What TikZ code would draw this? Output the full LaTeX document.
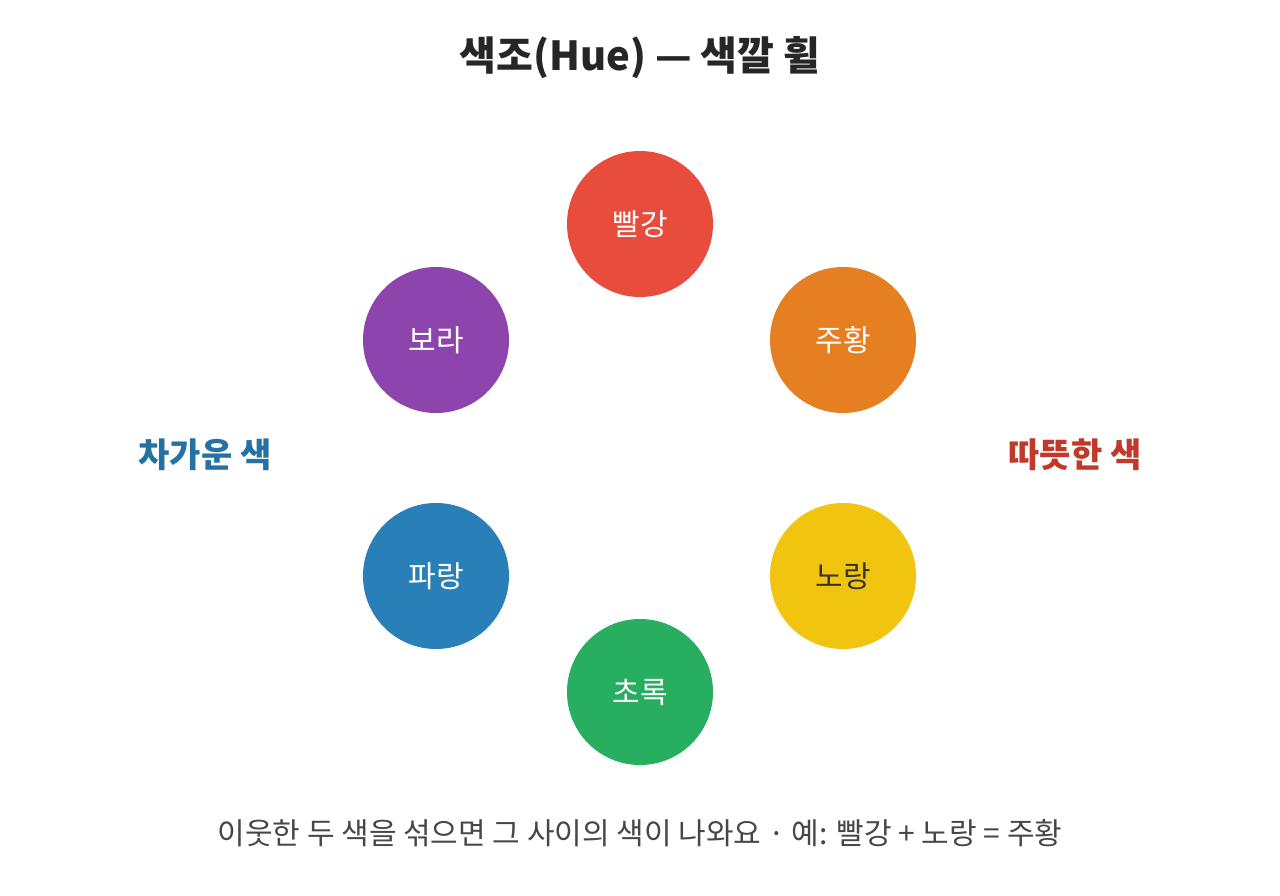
\documentclass[tikz,border=0pt]{standalone}
\usepackage{fontspec}
\setmainfont{Noto Sans CJK KR}
\begin{document}
\begin{tikzpicture}[x=1pt,y=-1pt,
  hue/.style={circle,minimum size=146pt,inner sep=0pt,text=white,font=\fontsize{30}{36}\selectfont},
  side/.style={font=\fontsize{34}{40}\selectfont\bfseries}]
\useasboundingbox (0,0) rectangle (1280,896);
\fill[white] (0,0) rectangle (1280,896);
\node[font=\fontsize{40}{48}\selectfont\bfseries,text=black!85] (title) at (640,58) {색조(Hue) — 색깔 휠};
\node[hue,fill={rgb,255:red,231;green,76;blue,60}] (r) at (640,224) {빨강};
\node[hue,fill={rgb,255:red,230;green,126;blue,34}] (o) at (843,340) {주황};
\node[hue,fill={rgb,255:red,241;green,196;blue,15},text=black!80] (y) at (843,576) {노랑};
\node[hue,fill={rgb,255:red,39;green,174;blue,96}] (g) at (640,692) {초록};
\node[hue,fill={rgb,255:red,41;green,128;blue,185}] (b) at (436,576) {파랑};
\node[hue,fill={rgb,255:red,142;green,68;blue,173}] (p) at (436,340) {보라};
\node[side,text={rgb,255:red,36;green,113;blue,163}] (cool) at (205,455) {차가운 색};
\node[side,text={rgb,255:red,192;green,57;blue,43}] (warm) at (1075,455) {따뜻한 색};
\node[font=\fontsize{30}{36}\selectfont,text=black!72] (note) at (640,833) {이웃한 두 색을 섞으면 그 사이의 색이 나와요 · 예: 빨강 + 노랑 = 주황};
\end{tikzpicture}
\end{document}
